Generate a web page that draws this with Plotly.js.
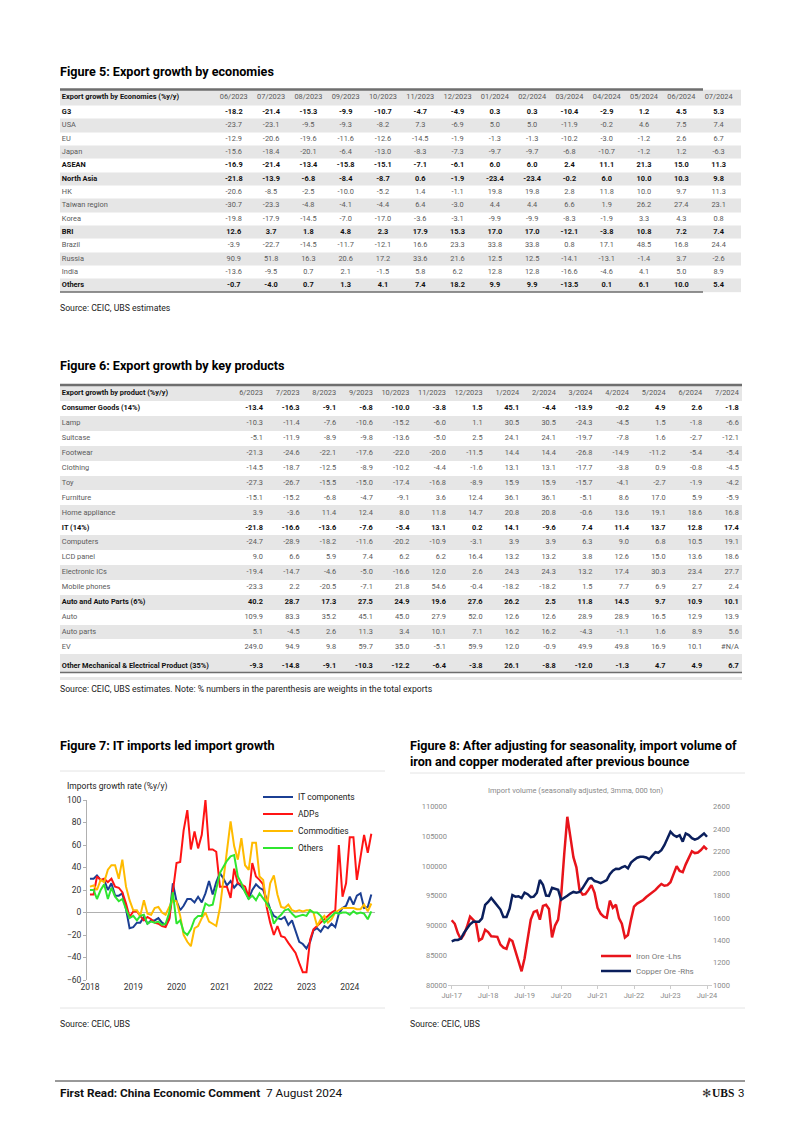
<!DOCTYPE html>
<html><head><meta charset="utf-8">
<script src="https://cdn.plot.ly/plotly-3.0.1.min.js"></script>
<style>html,body{margin:0;padding:0;background:#fff;}#page{width:802px;height:1134px;}</style>
</head><body><div id="page"></div>
<script>
// ---------------- Figure 5 data ----------------
const F5_HEADER = 'Export growth by Economies (%y/y)';
const F5_MONTHS = ['06/2023','07/2023','08/2023','09/2023','10/2023','11/2023','12/2023','01/2024','02/2024','03/2024','04/2024','05/2024','06/2024','07/2024'];
const F5_LABELS = ['G3','USA','EU','Japan','ASEAN','North Asia','HK','Taiwan region','Korea','BRI','Brazil','Russia','India','Others'];
const F5_BOLD = [true,false,false,false,true,true,false,false,false,true,false,false,false,true];
const F5_G3 = [-18.2,-21.4,-15.3,-9.9,-10.7,-4.7,-4.9,0.3,0.3,-10.4,-2.9,1.2,4.5,5.3];
const F5_USA = [-23.7,-23.1,-9.5,-9.3,-8.2,7.3,-6.9,5.0,5.0,-11.9,-0.2,4.6,7.5,7.4];
const F5_EU = [-12.9,-20.6,-19.6,-11.6,-12.6,-14.5,-1.9,-1.3,-1.3,-10.2,-3.0,-1.2,2.6,6.7];
const F5_JAPAN = [-15.6,-18.4,-20.1,-6.4,-13.0,-8.3,-7.3,-9.7,-9.7,-6.8,-10.7,-1.2,1.2,-6.3];
const F5_ASEAN = [-16.9,-21.4,-13.4,-15.8,-15.1,-7.1,-6.1,6.0,6.0,2.4,11.1,21.3,15.0,11.3];
const F5_NASIA = [-21.8,-13.9,-6.8,-8.4,-8.7,0.6,-1.9,-23.4,-23.4,-0.2,6.0,10.0,10.3,9.8];
const F5_HK = [-20.6,-8.5,-2.5,-10.0,-5.2,1.4,-1.1,19.8,19.8,2.8,11.8,10.0,9.7,11.3];
const F5_TAIWAN = [-30.7,-23.3,-4.8,-4.1,-4.4,6.4,-3.0,4.4,4.4,6.6,1.9,26.2,27.4,23.1];
const F5_KOREA = [-19.8,-17.9,-14.5,-7.0,-17.0,-3.6,-3.1,-9.9,-9.9,-8.3,-1.9,3.3,4.3,0.8];
const F5_BRI = [12.6,3.7,1.8,4.8,2.3,17.9,15.3,17.0,17.0,-12.1,-3.8,10.8,7.2,7.4];
const F5_BRAZIL = [-3.9,-22.7,-14.5,-11.7,-12.1,16.6,23.3,33.8,33.8,0.8,17.1,48.5,16.8,24.4];
const F5_RUSSIA = [90.9,51.8,16.3,20.6,17.2,33.6,21.6,12.5,12.5,-14.1,-13.1,-1.4,3.7,-2.6];
const F5_INDIA = [-13.6,-9.5,0.7,2.1,-1.5,5.8,6.2,12.8,12.8,-16.6,-4.6,4.1,5.0,8.9];
const F5_OTHERS = [-0.7,-4.0,0.7,1.3,4.1,7.4,18.2,9.9,9.9,-13.5,0.1,6.1,10.0,5.4];
const F5_VALUES = [F5_G3,F5_USA,F5_EU,F5_JAPAN,F5_ASEAN,F5_NASIA,F5_HK,F5_TAIWAN,F5_KOREA,F5_BRI,F5_BRAZIL,F5_RUSSIA,F5_INDIA,F5_OTHERS];

// ---------------- Figure 6 data ----------------
const F6_HEADER = 'Export growth by product (%y/y)';
const F6_MONTHS = ['6/2023','7/2023','8/2023','9/2023','10/2023','11/2023','12/2023','1/2024','2/2024','3/2024','4/2024','5/2024','6/2024','7/2024'];
const F6_LABELS = ['Consumer Goods (14%)','Lamp','Suitcase','Footwear','Clothing','Toy','Furniture','Home appliance','IT (14%)','Computers','LCD panel','Electronic ICs','Mobile phones','Auto and Auto Parts (6%)','Auto','Auto parts','EV','Other Mechanical & Electrical Product (35%)'];
const F6_BOLD = [true,false,false,false,false,false,false,false,true,false,false,false,false,true,false,false,false,true];
const F6_CONSUMER = [-13.4,-16.3,-9.1,-6.8,-10.0,-3.8,1.5,45.1,-4.4,-13.9,-0.2,4.9,2.6,-1.8];
const F6_LAMP = [-10.3,-11.4,-7.6,-10.6,-15.2,-6.0,1.1,30.5,30.5,-24.3,-4.5,1.5,-1.8,-6.6];
const F6_SUITCASE = [-5.1,-11.9,-8.9,-9.8,-13.6,-5.0,2.5,24.1,24.1,-19.7,-7.8,1.6,-2.7,-12.1];
const F6_FOOTWEAR = [-21.3,-24.6,-22.1,-17.6,-22.0,-20.0,-11.5,14.4,14.4,-26.8,-14.9,-11.2,-5.4,-5.4];
const F6_CLOTHING = [-14.5,-18.7,-12.5,-8.9,-10.2,-4.4,-1.6,13.1,13.1,-17.7,-3.8,0.9,-0.8,-4.5];
const F6_TOY = [-27.3,-26.7,-15.5,-15.0,-17.4,-16.8,-8.9,15.9,15.9,-15.7,-4.1,-2.7,-1.9,-4.2];
const F6_FURNITURE = [-15.1,-15.2,-6.8,-4.7,-9.1,3.6,12.4,36.1,36.1,-5.1,8.6,17.0,5.9,-5.9];
const F6_HOMEAPP = [3.9,-3.6,11.4,12.4,8.0,11.8,14.7,20.8,20.8,-0.6,13.6,19.1,18.6,16.8];
const F6_IT = [-21.8,-16.6,-13.6,-7.6,-5.4,13.1,0.2,14.1,-9.6,7.4,11.4,13.7,12.8,17.4];
const F6_COMPUTERS = [-24.7,-28.9,-18.2,-11.6,-20.2,-10.9,-3.1,3.9,3.9,6.3,9.0,6.8,10.5,19.1];
const F6_LCD = [9.0,6.6,5.9,7.4,6.2,6.2,16.4,13.2,13.2,3.8,12.6,15.0,13.6,18.6];
const F6_ICS = [-19.4,-14.7,-4.6,-5.0,-16.6,12.0,2.6,24.3,24.3,13.2,17.4,30.3,23.4,27.7];
const F6_MOBILE = [-23.3,2.2,-20.5,-7.1,21.8,54.6,-0.4,-18.2,-18.2,1.5,7.7,6.9,2.7,2.4];
const F6_AUTOALL = [40.2,28.7,17.3,27.5,24.9,19.6,27.6,26.2,2.5,11.8,14.5,9.7,10.9,10.1];
const F6_AUTO = [109.9,83.3,35.2,45.1,45.0,27.9,52.0,12.6,12.6,28.9,28.9,16.5,12.9,13.9];
const F6_AUTOPARTS = [5.1,-4.5,2.6,11.3,3.4,10.1,7.1,16.2,16.2,-4.3,-1.1,1.6,8.9,5.6];
const F6_EV = [249.0,94.9,9.8,59.7,35.0,-5.1,59.9,12.0,-0.9,49.9,49.8,16.9,10.1,null];
const F6_OTHERMECH = [-9.3,-14.8,-9.1,-10.3,-12.2,-6.4,-3.8,26.1,-8.8,-12.0,-1.3,4.7,4.9,6.7];
const F6_VALUES = [F6_CONSUMER,F6_LAMP,F6_SUITCASE,F6_FOOTWEAR,F6_CLOTHING,F6_TOY,F6_FURNITURE,F6_HOMEAPP,F6_IT,F6_COMPUTERS,F6_LCD,F6_ICS,F6_MOBILE,F6_AUTOALL,F6_AUTO,F6_AUTOPARTS,F6_EV,F6_OTHERMECH];

// ---------------- Figure 7 data (monthly from Jan 2018) ----------------
const F7_START = [2018, 1];
const F7_IT = [30,30,33,29,29,20,26,15,15,17,3,-14,-13,-9,-9,-4,-10,-7,-7,-5,-9,-11,-5,26,10,2,6,12,12,9,14,9,17,28,16,27,
  35,30,24,28,22,26,23,19,12,20,25,22,20,12,3,-3,-5,-6,-4,-11,-7,-17,-26,-28,-32,-26,-16,-14,-17,-12,-14,-10,-13,-1,4,6,14,7,15,17,4,5,16];
const F7_ADP = [16,16,32,29,30,27,30,23,22,18,8,-4,1,1,-3,-7,-4,-6,-9,-10,-12,-13,-6,20,44,45,73,91,56,72,57,69,100,56,56,54,
  23,23,23,13,39,26,25,23,14,44,32,29,25,4,-9,-20,-12,-21,-22,-27,-32,-36,-45,-53,-53,-24,-15,-12,-9,-6,-3,0,2,60,14,26,67,67,29,50,69,53,70];
const F7_COMMOD = [23,24,20,29,27,38,42,42,30,47,23,11,2,2,-3,11,-1,-2,4,5,0,-2,5,11,10,-3,-20,-26,-30,-14,-12,-5,0,-8,-10,-12,
  4,30,55,81,59,47,66,42,38,62,62,32,29,5,26,33,16,5,4,7,2,1,2,1,2,2,0,-12,-6,-3,-9,-6,0,2,4,4,4,4,3,3,7,1,8];
const F7_OTHERS = [20,20,12,20,25,12,22,14,10,12,3,-5,-3,-7,-3,-2,-10,-8,-9,-8,-11,-10,0,18,-10,-7,-17,-20,-15,-6,-3,-3,8,6,7,20,
  35,41,46,50,51,32,26,18,12,15,11,17,13,8,3,-10,-5,-2,2,3,-1,-4,-3,-2,-3,2,0,0,-3,-9,-6,-3,0,-1,0,0,-2,1,-1,0,-1,-6,1];
const F7_NAMES = ['IT components','ADPs','Commodities','Others'];

// ---------------- Figure 8 data (monthly from Jul 2017) ----------------
const F8_START = [2017, 7];
const F8_IRON = [90900,90300,88700,87700,88500,89800,91500,91000,90500,87500,
  87800,89300,88900,88200,88200,88100,86800,86300,86100,87700,
  87400,85800,84000,82300,84500,88000,91000,92300,92500,91000,
  93300,93500,92800,88000,90000,91000,95000,102000,108300,105000,
  101500,99800,96000,95200,95300,96000,96800,95500,93000,92000,
  91500,91300,94200,93000,93500,91200,90300,88000,88400,91000,
  93200,93700,94000,94300,94800,95200,95500,96000,96500,97000,
  96700,96800,97300,98500,100000,99200,99000,100300,101500,102500,
  102200,102300,102700,103300,102800];
const F8_COPPER = [1392,1403,1404,1417,1468,1505,1545,1568,1566,1568,
  1598,1718,1745,1780,1746,1713,1677,1610,1610,1685,
  1807,1793,1797,1780,1828,1815,1789,1793,1828,1942,
  1900,1803,1800,1873,1862,1855,1765,1781,1800,1821,
  1835,1828,1835,1870,1915,1954,1960,1933,1925,1914,
  1927,1942,1995,2026,2043,2041,2055,2067,2047,2098,
  2123,2142,2151,2151,2144,2127,2162,2192,2188,2210,
  2255,2310,2375,2345,2330,2345,2286,2360,2345,2318,
  2305,2316,2340,2360,2330];
const F8_NAMES = ['Iron Ore -Lhs','Copper Ore -Rhs'];

// ---------------- helpers ----------------
const W = 802, H = 1134;
const fx = px => px / W;
const fy = py => 1 - py / H;
const FONT = 'Roboto, "Noto Sans", sans-serif';
const BAND = '#e6e6e6';
const DARK = '#111111';
const LIGHT = '#5a5a5a';

function monthSeq(start, n) {
  const out = [];
  for (let i = 0; i < n; i++) {
    const t = start[1] - 1 + i;
    const y = start[0] + Math.floor(t / 12);
    const m = (t % 12) + 1;
    out.push(y + '-' + String(m).padStart(2, '0') + '-01');
  }
  return out;
}

function tableTraces(cfg) {
  const n = cfg.labels.length;
  const edges = [cfg.yTop, -0.5];
  for (let i = 0; i < n; i++) edges.push(i + 0.5 + (i === n - 1 ? cfg.lastExtra : 0));
  const z = [[1]];
  for (let i = 0; i < n; i++) z.push([i % 2 === 1 ? 1 : 0]);
  const band = {type: 'heatmap', xaxis: cfg.xa, yaxis: cfg.ya, x: [-cfg.L, cfg.xMax], y: edges, z: z,
    zmin: 0, zmax: 1, colorscale: [[0, '#ffffff'], [1, BAND]], showscale: false, hoverinfo: 'skip'};
  const headerY = (cfg.yTop - 0.5) / 2;
  const rowY = i => i + (i === n - 1 ? cfg.lastShift : 0);
  const colX = j => cfg.align === 'center' ? j + 0.5 : j + 1;
  const lab = {type: 'scatter', mode: 'text', xaxis: cfg.xa, yaxis: cfg.ya, showlegend: false, hoverinfo: 'skip',
    cliponaxis: false, x: [], y: [], text: [], textposition: 'middle right',
    textfont: {family: FONT, size: cfg.fs, color: []}};
  lab.x.push(-cfg.L + cfg.pad); lab.y.push(headerY); lab.text.push('<b>' + cfg.header + '</b>'); lab.textfont.color.push(DARK);
  cfg.labels.forEach((l, i) => {
    lab.x.push(-cfg.L + cfg.pad); lab.y.push(rowY(i));
    lab.text.push(cfg.bold[i] ? '<b>' + l + '</b>' : l);
    lab.textfont.color.push(cfg.bold[i] ? DARK : LIGHT);
  });
  const num = {type: 'scatter', mode: 'text', xaxis: cfg.xa, yaxis: cfg.ya, showlegend: false, hoverinfo: 'skip',
    cliponaxis: false, x: [], y: [], text: [],
    textposition: cfg.align === 'center' ? 'middle center' : 'middle left',
    textfont: {family: FONT, size: cfg.fs, color: []}};
  cfg.months.forEach((m, j) => { num.x.push(colX(j)); num.y.push(headerY); num.text.push(m); num.textfont.color.push(LIGHT); });
  cfg.values.forEach((row, i) => row.forEach((v, j) => {
    const s = v === null ? '#N/A' : v.toFixed(1);
    num.x.push(colX(j)); num.y.push(rowY(i));
    num.text.push(cfg.bold[i] ? '<b>' + s + '</b>' : s);
    num.textfont.color.push(cfg.bold[i] ? DARK : LIGHT);
  }));
  return [band, lab, num];
}

const traces = [];

// Figure 7 lines
const F7_X = monthSeq(F7_START, F7_IT.length);
const F7_COLORS = ['#1b3f93', '#ff1414', '#ffbb00', '#2fe62f'];
[F7_IT, F7_ADP, F7_COMMOD, F7_OTHERS].forEach((s, k) => {
  traces.push({type: 'scatter', mode: 'lines', x: F7_X, y: s, name: F7_NAMES[k], xaxis: 'x', yaxis: 'y',
    line: {color: F7_COLORS[k], width: 2}, legend: k === 0 ? 'legend' : 'legend' + (k + 1), hoverinfo: 'skip'});
});

// Figure 8 lines
const F8_X = monthSeq(F8_START, F8_IRON.length);
traces.push({type: 'scatter', mode: 'lines', x: F8_X, y: F8_IRON, name: F8_NAMES[0], xaxis: 'x2', yaxis: 'y2',
  line: {color: '#e8141b', width: 2.5}, legend: 'legend5', hoverinfo: 'skip'});
traces.push({type: 'scatter', mode: 'lines', x: F8_X, y: F8_COPPER, name: F8_NAMES[1], xaxis: 'x2', yaxis: 'y3',
  line: {color: '#0b1f5c', width: 2.5}, legend: 'legend6', hoverinfo: 'skip'});

// Tables
const T5 = {xa: 'x4', ya: 'y4', L: 4.16, xMax: 14.1, yTop: -1.71, lastExtra: 0, lastShift: 0, align: 'center',
  fs: 7.4, pad: 0.05, header: F5_HEADER, months: F5_MONTHS, labels: F5_LABELS, bold: F5_BOLD, values: F5_VALUES};
const T6 = {xa: 'x5', ya: 'y5', L: 4.546, xMax: 14.087, yTop: -1.577, lastExtra: 0.22, lastShift: 0.28, align: 'right',
  fs: 7.4, pad: 0.05, header: F6_HEADER, months: F6_MONTHS, labels: F6_LABELS, bold: F6_BOLD, values: F6_VALUES};
traces.push(...tableTraces(T5), ...tableTraces(T6));

// ---------------- layout ----------------
const hidden = {visible: false, fixedrange: true};
function line(x0, x1, y, color, width) {
  return {type: 'line', xref: 'paper', yref: 'paper', x0: fx(x0), x1: fx(x1), y0: fy(y), y1: fy(y), line: {color: color, width: width}};
}
const shapes = [
  line(60, 703, 89.5, '#6e6e6e', 2.5),
  line(60, 703, 292, '#6e6e6e', 1.5),
  line(60, 742, 385, '#6e6e6e', 2.5),
  line(60, 742, 672.5, '#6e6e6e', 1.5),
  {type: 'rect', xref: 'paper', yref: 'paper', x0: fx(60), x1: fx(742), y0: fy(680), y1: fy(677), fillcolor: '#e8e8e8', line: {width: 0}},
  line(60, 385, 771, '#e4e4e4', 1),
  line(410, 745, 773, '#e4e4e4', 1),
  line(60, 385, 1008, '#e4e4e4', 1),
  line(410, 745, 1008, '#e4e4e4', 1),
  line(55, 745, 1081, '#333333', 1)
];

function txt(text, px, py, size, color, extra) {
  return Object.assign({text: text, x: fx(px), y: fy(py), xref: 'paper', yref: 'paper', xanchor: 'left', yanchor: 'middle',
    showarrow: false, borderpad: 0, font: {family: FONT, size: size, color: color}}, extra || {});
}
const TITLE = 12.6, SRC = 8.7;
const annotations = [
  txt('<b>Figure 5: Export growth by economies</b>', 59, 71, TITLE, '#000'),
  txt('Source: CEIC, UBS estimates', 59, 308, SRC, '#222'),
  txt('<b>Figure 6: Export growth by key products</b>', 59, 365, TITLE, '#000'),
  txt('Source: CEIC, UBS estimates. Note: % numbers in the parenthesis are weights in the total exports', 59, 689, SRC, '#222'),
  txt('<b>Figure 7: IT imports led import growth</b>', 59, 745.5, TITLE, '#000'),
  txt('<b>Figure 8: After adjusting for seasonality, import volume of</b>', 409, 745.5, TITLE, '#000'),
  txt('<b>iron and copper moderated after previous bounce</b>', 409, 761.5, TITLE, '#000'),
  txt('Imports growth rate (%y/y)', 66, 786, 8.5, '#222'),
  txt('Import volume (seasonally adjusted, 3mma, 000 ton)', 575, 790, 7.5, '#8a8a8a', {xanchor: 'center'}),
  txt('Source: CEIC, UBS', 59, 1024, SRC, '#222'),
  txt('Source: CEIC, UBS', 409, 1024, SRC, '#222'),
  txt('<b>First Read: China Economic Comment</b>  7 August 2024', 59, 1093, 11.8, '#111'),
  txt('✻', 701, 1093, 11, '#333', {font: {family: 'DejaVu Sans', size: 11, color: '#333'}}),
  txt('<b>UBS</b>', 711, 1093, 11, '#111', {font: {family: '"Liberation Serif", serif', size: 11.5, color: '#111'}}),
  txt('3', 737, 1093, 11.5, '#111')
];

function legendAt(px, py, color, size) {
  return {x: fx(px), y: fy(py), xanchor: 'left', yanchor: 'middle', bgcolor: 'rgba(0,0,0,0)', borderwidth: 0,
    font: {family: FONT, size: size, color: color}, itemwidth: 30};
}

const layout = {
  width: W, height: H, margin: {l: 0, r: 0, t: 0, b: 0, pad: 0},
  paper_bgcolor: '#ffffff', plot_bgcolor: 'rgba(0,0,0,0)', hovermode: false, dragmode: false,
  font: {family: FONT, color: '#222'},
  xaxis: {domain: [fx(87), fx(375)], anchor: 'y', type: 'date', range: ['2017-12-07', '2024-08-01'],
    tick0: '2018-01-01', dtick: 'M12', tickformat: '%Y', ticks: '', showgrid: false, zeroline: false, showline: false,
    tickfont: {family: FONT, size: 8.5, color: '#333'}, fixedrange: true},
  yaxis: {domain: [fy(980), fy(800)], anchor: 'x', range: [-60, 100], tick0: 0, dtick: 20, showgrid: false,
    zeroline: true, zerolinecolor: '#b0b0b0', zerolinewidth: 1, showline: true, linecolor: '#b0b0b0', linewidth: 1,
    ticks: 'outside', ticklen: 3, tickcolor: '#b0b0b0', tickfont: {family: FONT, size: 8.5, color: '#333'}, fixedrange: true},
  xaxis2: {domain: [fx(448), fx(712)], anchor: 'y2', type: 'date', range: ['2017-05-25', '2024-08-20'],
    tick0: '2017-07-01', dtick: 'M12', tickformat: '%b-%y', ticks: 'outside', ticklen: 3, tickcolor: '#cccccc',
    showgrid: false, zeroline: false, showline: true, linecolor: '#cccccc', linewidth: 1,
    tickfont: {family: FONT, size: 7.5, color: '#8a8a8a'}, fixedrange: true},
  yaxis2: {domain: [fy(985), fy(806.7)], anchor: 'x2', range: [80000, 110000], dtick: 5000, tickformat: 'd',
    showgrid: false, zeroline: false, showline: false, ticks: '', tickfont: {family: FONT, size: 7.5, color: '#8a8a8a'}, fixedrange: true},
  yaxis3: {overlaying: 'y2', anchor: 'x2', side: 'right', range: [1000, 2600], dtick: 200, tickformat: 'd',
    showgrid: false, zeroline: false, showline: false, ticks: '', tickfont: {family: FONT, size: 7.5, color: '#8a8a8a'}, fixedrange: true},
  xaxis4: Object.assign({domain: [fx(60), fx(741)], anchor: 'y4', range: [-T5.L, T5.xMax]}, hidden),
  yaxis4: Object.assign({domain: [fy(292.3), fy(89.5)], anchor: 'x4', range: [13.5, T5.yTop]}, hidden),
  xaxis5: Object.assign({domain: [fx(60), fx(742)], anchor: 'y5', range: [-T6.L, T6.xMax]}, hidden),
  yaxis5: Object.assign({domain: [fy(672.5), fy(385)], anchor: 'x5', range: [17.72, T6.yTop]}, hidden),
  legend: legendAt(258, 797, '#222', 8.5),
  legend2: legendAt(258, 814, '#222', 8.5),
  legend3: legendAt(258, 831, '#222', 8.5),
  legend4: legendAt(258, 848, '#222', 8.5),
  legend5: legendAt(596, 956, '#7a7a7a', 8),
  legend6: legendAt(596, 971, '#7a7a7a', 8),
  shapes: shapes,
  annotations: annotations
};

Plotly.newPlot('page', traces, layout, {staticPlot: true, displayModeBar: false});
</script>
</body></html>
